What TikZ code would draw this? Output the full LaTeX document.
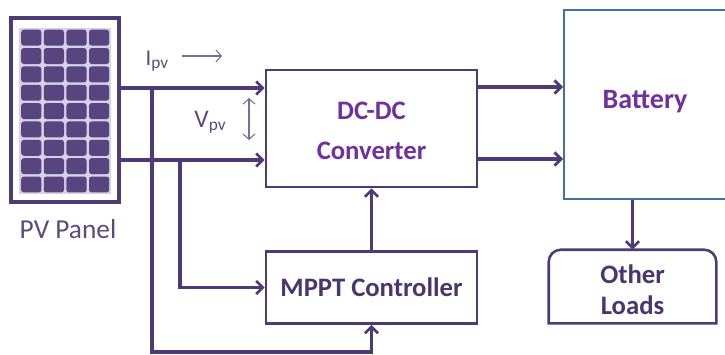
\documentclass[tikz,border=0pt]{standalone}
\usepackage{fontspec}
\setmainfont{Carlito}
\usetikzlibrary{arrows.meta}
\definecolor{ln}{HTML}{4F3A78}
\definecolor{hi}{HTML}{7030A0}
\definecolor{dk}{HTML}{4A3570}
\definecolor{lb}{HTML}{5A4A82}
\definecolor{bl}{HTML}{41719C}
\definecolor{grid}{HTML}{D8D0E8}
\newcommand{\subpv}{\raisebox{-0.3ex}{\fontsize{13}{14}\selectfont pv}}
\tikzset{
  wire/.style={draw=ln, line width=2.7pt},
  tip/.style={-{Straight Barb[length=5pt,width=10pt,line width=2pt]}},
  thinarrow/.style={draw=lb!80, line width=0.8pt},
  box/.style={draw=ln, line width=1.9pt, fill=white, inner sep=0pt},
  cell/.style={fill=ln!95, rounded corners=2pt, draw=none},
}
\begin{document}
\begin{tikzpicture}[x=0.75pt,y=-0.75pt]
\useasboundingbox (0,0) rectangle (725,354);
% PV panel
\node[draw=ln, line width=3pt, minimum width=81pt, minimum height=138pt, fill=white] (pv) at (65,110) {};
\fill[grid] (19,27.5) rectangle (111,194);
\foreach \i in {0,...,3}{
  \foreach \j in {0,...,8}{
    \fill[cell] (20+\i*22.6+1.2,28.5+\j*18.35+1.2) rectangle (20+\i*22.6+21.4,28.5+\j*18.35+17.15);
  }
}
\node[text=lb, font=\fontsize{20.5}{24}\selectfont] (pvl) at (68,229) {PV Panel};
% blocks
\node[box, minimum width=158.25pt, minimum height=87.75pt, align=center, text=hi,
      font=\fontsize{20}{30}\selectfont\bfseries] (dc) at (371.5,128.5) {};
\node[text=hi, align=center, font=\fontsize{20}{30}\selectfont\bfseries] (dct) at (371.5,131) {DC-DC\\Converter};
\node[box, minimum width=158.25pt, minimum height=54pt, text=dk,
      font=\fontsize{20}{24}\selectfont\bfseries] (mppt) at (371.5,287.5) {MPPT Controller};
\node[draw=bl, line width=1.5pt, minimum width=124.5pt, minimum height=141.75pt, inner sep=0pt] (bat) at (647,104.5) {};
\node[text=hi, font=\fontsize{21}{24}\selectfont\bfseries] (batl) at (645,101.5) {Battery};
\node[minimum width=125.25pt, minimum height=54.75pt, inner sep=0pt] (loads) at (632.5,286.5) {};
\node[align=center, text=dk, font=\fontsize{20}{23}\selectfont\bfseries] (loadst) at (632.5,289.5) {Other\\Loads};
\draw[draw=ln, line width=1.9pt] (loads.south west) [rounded corners=9pt] -- (loads.north west) -- (loads.north east) [sharp corners] -- (loads.south east) -- cycle;
% coordinates
\coordinate (p1) at (119,88);
\coordinate (p2) at (119,160);
\coordinate (j1) at (152,88);
\coordinate (j2) at (180,160);
\coordinate (b1) at (152,352);
\coordinate (o1) at (477,87);
\coordinate (o2) at (477,159);
% wires
\draw[wire,tip] (p1) -- (dc.west |- p1);
\draw[wire,tip] (p2) -- (dc.west |- p2);
\draw[wire,tip] (j1) -- (b1) -| (mppt.south);
\draw[wire,tip] (j2) |- (mppt.west);
\draw[wire,tip] (mppt.north) -- (dc.south);
\draw[wire,tip] (o1) -- (bat.west |- o1);
\draw[wire,tip] (o2) -- (bat.west |- o2);
\draw[wire,tip] (bat.south -| loads.north) -- (loads.north);
% labels
\node[text=lb, font=\fontsize{17}{18}\selectfont, anchor=base] (ipv) at (157,65) {I\subpv};
\coordinate (ia) at (182,56);
\coordinate (ib) at (222,56);
\draw[thinarrow,-{Straight Barb[length=4pt,width=9pt,line width=0.8pt]}] (ia) -- (ib);
\node[text=lb, font=\fontsize{19}{20}\selectfont, anchor=base] (vpv) at (210,127) {V\subpv};
\coordinate (va) at (249,98);
\coordinate (vb) at (249,140);
\draw[thinarrow,{Straight Barb[length=4pt,width=9pt,line width=0.8pt]}-{Straight Barb[length=4pt,width=9pt,line width=0.8pt]}] (va) -- (vb);
\end{tikzpicture}
\end{document}
